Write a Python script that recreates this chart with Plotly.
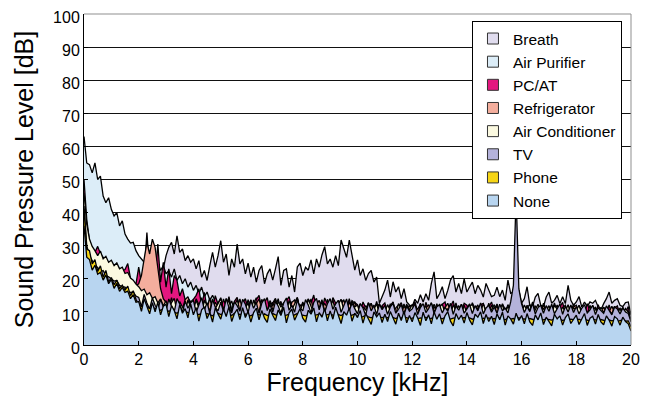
import plotly.graph_objects as go

# Frequency grid (kHz), 0.1 kHz steps from 0 to 20
freq_khz = [i / 10 for i in range(201)]

# Sound pressure level [dB], one value per 0.1 kHz
breath = [
    58.0, 50.0, 48.0, 47.0, 46.0, 44.0, 43.0, 41.0, 39.0, 38.0,
    36.0, 35.0, 34.0, 33.0, 31.0, 30.0, 29.0, 28.0, 27.0, 26.0,
    24.0, 23.5, 22.0, 24.0, 22.5, 23.0, 21.5, 24.0, 21.0, 23.0,
    27.0, 29.5, 31.0, 27.5, 33.0, 28.0, 29.0, 25.5, 27.0, 25.0,
    26.0, 23.0, 25.5, 20.5, 22.5, 19.5, 24.0, 28.0, 23.5, 27.0,
    31.5, 25.0, 27.5, 21.0, 26.0, 23.5, 30.5, 24.5, 26.0, 21.5,
    24.7, 20.5, 23.5, 19.0, 22.5, 24.0, 18.5, 21.5, 23.0, 19.6,
    23.0, 26.7, 18.0, 22.5, 23.0, 17.5, 21.0, 16.0, 23.6, 24.7,
    21.0, 23.5, 22.6, 25.7, 21.5, 26.0, 23.5, 27.2, 29.7, 24.5,
    26.0, 23.5, 27.0, 24.0, 31.7, 28.7, 26.5, 31.7, 27.7, 22.6,
    25.7, 21.0, 23.0, 19.5, 21.6, 22.5, 19.0, 20.5, 12.6, 14.5,
    16.6, 19.6, 14.5, 19.1, 16.0, 17.6, 14.0, 17.0, 13.0, 12.1,
    11.6, 13.8, 12.6, 15.2, 13.0, 15.5, 13.5, 18.6, 22.1, 14.0,
    15.5, 17.6, 14.0, 16.5, 19.6, 21.0, 16.0, 18.6, 15.5, 20.0,
    16.0, 17.6, 19.0, 15.5, 18.0, 16.6, 14.5, 18.6, 16.5, 14.6,
    15.0, 17.5, 14.6, 16.6, 13.5, 19.6, 15.6, 16.0, 14.0, 16.6,
    12.6, 14.0, 17.6, 12.0, 11.6, 14.5, 15.6, 12.0, 11.6, 14.5,
    16.0, 12.6, 13.5, 15.0, 12.5, 14.6, 12.5, 18.0, 13.5, 12.0,
    13.0, 14.6, 11.5, 13.0, 11.6, 13.0, 12.6, 13.5, 11.5, 10.6,
    12.5, 14.0, 16.0, 12.6, 13.5, 14.0, 12.0, 11.6, 12.8, 13.0,
    9.0,
]

air_purifier = [
    63.0, 55.0, 54.5, 52.0, 55.0, 50.0, 51.0, 45.0, 43.0, 44.5,
    41.0, 39.0, 40.0, 36.0, 37.5, 33.5, 32.0, 30.8, 31.0, 28.5,
    27.0, 26.0, 25.0, 26.5, 24.0, 25.5, 23.0, 25.0, 22.5, 24.0,
    21.5, 22.5, 20.5, 23.0, 19.5, 21.0, 18.5, 20.0, 17.5, 19.0,
    16.5, 18.0, 15.5, 17.5, 14.5, 16.0, 13.5, 15.0, 13.2, 12.6,
    14.3, 11.2, 13.9, 11.6, 13.3, 10.4, 14.1, 11.5, 13.0, 10.2,
    13.7, 10.7, 12.8, 14.3, 10.3, 13.2, 11.0, 13.5, 10.5, 12.9,
    11.4, 14.0, 10.2, 12.6, 13.8, 10.6, 13.1, 11.1, 14.2, 10.4,
    12.7, 10.8, 13.9, 10.5, 13.0, 13.6, 10.9, 12.4, 10.3, 13.8,
    11.2, 13.3, 10.1, 13.5, 12.3, 10.4, 13.1, 10.7, 13.4, 12.6,
    10.2, 12.4, 10.7, 9.4, 12.7, 10.1, 12.1, 9.7, 12.5, 10.4,
    12.3, 9.9, 11.9, 12.8, 9.5, 11.6, 10.2, 12.4, 9.8, 12.0,
    10.0, 12.2, 9.6, 12.6, 10.5, 9.3, 11.9, 9.9, 12.3, 10.3,
    12.4, 9.8, 11.7, 9.5, 12.2, 10.2, 12.7, 9.6, 11.5, 10.1,
    11.8, 9.4, 12.5, 10.3, 11.4, 9.2, 12.1, 10.0, 12.6, 9.7,
    11.3, 12.0, 9.5, 11.6, 9.9, 12.2, 10.2, 9.4, 11.8, 10.3,
    11.9, 9.6, 11.2, 12.3, 9.3, 11.5, 10.0, 12.0, 9.7, 11.3,
    9.4, 11.7, 10.2, 9.6, 12.1, 9.8, 11.4, 9.2, 11.8, 10.1,
    10.3, 11.6, 9.5, 11.3, 9.9, 11.9, 9.3, 10.2, 11.5, 9.6,
    11.4, 9.2, 11.2, 9.8, 11.7, 9.5, 10.1, 11.3, 9.4, 10.0,
    7.2,
]

pc_at = [
    50.0, 38.0, 31.5, 29.0, 28.0, 29.8, 27.6, 26.5, 25.8, 25.0,
    24.6, 24.0, 24.2, 23.0, 22.5, 22.8, 24.6, 20.2, 19.2, 18.4,
    23.5, 18.8, 21.5, 34.0, 22.0, 29.0, 20.5, 30.5, 19.0, 25.0,
    17.5, 23.0, 15.5, 21.0, 19.5, 14.8, 17.0, 13.6, 14.2, 13.0,
    13.8, 15.0, 17.0, 11.8, 15.9, 11.2, 14.1, 10.7, 14.9, 12.3,
    10.6, 13.9, 11.5, 14.6, 10.2, 13.2, 14.4, 10.5, 12.6, 14.0,
    11.0, 13.5, 10.4, 13.7, 15.0, 10.8, 12.9, 14.3, 10.3, 12.7,
    14.1, 10.9, 13.2, 10.2, 13.4, 14.6, 11.1, 12.8, 14.4, 10.6,
    13.0, 10.7, 13.8, 12.5, 15.1, 11.0, 13.3, 10.4, 14.2, 12.4,
    10.8, 14.3, 12.7, 10.3, 13.7, 12.9, 11.0, 14.0, 10.5, 12.8,
    12.2, 9.8, 13.0, 11.3, 9.6, 12.6, 10.2, 13.2, 9.9, 11.9,
    12.7, 9.7, 11.8, 13.0, 9.5, 11.5, 12.8, 10.0, 12.4, 9.8,
    11.7, 13.1, 9.9, 12.0, 9.6, 12.9, 10.5, 11.9, 9.7, 12.5,
    10.2, 12.3, 13.0, 9.8, 11.6, 13.3, 9.4, 11.8, 10.3, 12.6,
    12.0, 9.7, 12.8, 10.6, 9.3, 12.2, 12.6, 10.0, 11.4, 13.0,
    10.1, 12.4, 9.8, 12.5, 10.5, 9.2, 11.7, 12.9, 9.9, 11.5,
    12.8, 10.3, 11.6, 9.5, 13.0, 10.6, 11.9, 9.7, 12.6, 10.4,
    11.7, 9.6, 12.7, 10.2, 11.4, 12.9, 9.4, 12.0, 10.0, 12.4,
    9.9, 11.9, 10.5, 9.3, 12.5, 10.3, 11.7, 9.6, 12.2, 10.1,
    11.4, 9.8, 12.1, 9.5, 11.1, 11.8, 9.2, 11.3, 9.9, 11.6,
    6.8,
]

refrigerator = [
    44.0, 34.0, 30.0, 28.0, 27.0, 26.0, 26.5, 25.5, 24.8, 24.2,
    23.8, 23.0, 23.4, 22.1, 21.7, 20.8, 20.3, 19.6, 18.7, 17.9,
    18.5, 21.0, 26.0, 31.0, 27.5, 32.0, 29.5, 24.0, 17.0, 14.0,
    12.8, 11.1, 14.3, 10.6, 13.5, 12.2, 10.9, 13.7, 14.6, 11.8,
    10.9, 14.0, 12.3, 10.4, 13.6, 11.1, 14.2, 10.7, 12.9, 11.5,
    13.3, 10.8, 12.0, 14.1, 10.3, 12.7, 11.4, 13.9, 10.6, 12.4,
    11.2, 13.7, 10.4, 12.5, 13.9, 10.9, 12.1, 10.2, 13.4, 11.7,
    13.8, 10.6, 12.6, 11.0, 13.2, 10.1, 12.9, 13.6, 10.5, 12.2,
    10.7, 12.8, 11.4, 13.9, 10.2, 12.3, 13.5, 10.8, 12.6, 11.1,
    13.4, 10.9, 12.7, 10.4, 12.1, 13.7, 10.6, 12.9, 11.3, 13.1,
    10.2, 12.4, 9.7, 11.9, 10.8, 12.6, 9.5, 11.4, 12.3, 9.8,
    11.7, 10.0, 12.5, 9.6, 11.2, 12.1, 9.4, 11.8, 10.3, 12.0,
    9.9, 11.6, 10.8, 12.4, 9.5, 11.1, 12.2, 9.7, 11.5, 10.4,
    12.0, 9.6, 11.3, 12.6, 10.1, 9.4, 11.9, 10.6, 12.3, 9.8,
    11.2, 12.4, 9.7, 10.9, 12.1, 9.5, 11.6, 10.2, 9.9, 12.0,
    10.3, 11.8, 9.6, 12.2, 10.7, 11.4, 9.9, 11.0, 12.1, 9.5,
    11.6, 9.8, 12.0, 10.5, 9.3, 11.7, 10.9, 9.6, 12.2, 10.1,
    9.5, 11.9, 10.3, 12.1, 9.7, 11.2, 12.0, 9.4, 10.8, 11.5,
    12.0, 9.6, 10.7, 11.5, 9.3, 11.9, 10.1, 11.3, 9.8, 10.6,
    11.3, 9.5, 10.0, 11.7, 9.8, 10.4, 11.1, 9.2, 10.6, 10.2,
    6.2,
]

air_conditioner = [
    46.0, 36.5, 32.0, 29.8, 28.5, 27.0, 28.4, 26.0, 26.8, 25.0,
    25.6, 24.0, 24.8, 23.0, 23.5, 21.6, 21.9, 20.2, 19.6, 18.4,
    17.6, 16.4, 16.9, 15.2, 15.8, 14.1, 14.6, 12.7, 13.9, 11.8,
    13.4, 10.5, 12.8, 14.1, 10.2, 13.1, 11.5, 9.9, 13.6, 11.3,
    10.7, 13.5, 11.2, 9.8, 13.3, 12.1, 10.3, 13.9, 11.0, 12.6,
    14.0, 10.6, 12.3, 13.4, 9.9, 11.8, 13.7, 10.4, 12.5, 11.1,
    12.7, 9.7, 13.6, 11.2, 10.1, 13.8, 11.9, 9.6, 12.9, 10.8,
    9.9, 13.2, 11.4, 12.8, 10.0, 13.5, 10.7, 12.4, 14.0, 10.3,
    12.5, 10.1, 13.9, 11.7, 9.8, 12.6, 11.3, 13.7, 10.2, 12.0,
    11.2, 13.6, 9.9, 12.3, 13.8, 10.6, 12.1, 9.7, 13.3, 11.5,
    12.1, 9.3, 11.6, 10.5, 12.7, 9.4, 11.1, 12.4, 9.6, 11.8,
    9.8, 12.2, 10.4, 11.7, 9.2, 12.5, 10.9, 9.5, 12.0, 10.6,
    12.3, 10.0, 9.4, 12.1, 10.7, 11.8, 9.3, 12.6, 10.5, 9.9,
    11.4, 12.4, 9.6, 11.0, 9.1, 12.2, 10.3, 11.9, 9.4, 12.0,
    9.5, 11.6, 12.3, 9.8, 11.2, 10.1, 12.5, 9.7, 11.4, 10.6,
    12.2, 9.4, 11.3, 12.0, 9.6, 11.7, 10.2, 9.5, 11.9, 10.8,
    9.7, 12.1, 10.4, 9.3, 11.8, 10.6, 12.3, 9.5, 11.0, 10.3,
    11.9, 9.4, 12.0, 10.8, 9.6, 11.5, 10.1, 12.2, 9.2, 11.3,
    10.4, 12.0, 9.5, 11.2, 10.0, 9.3, 11.8, 10.7, 9.6, 11.4,
    9.8, 11.1, 10.5, 9.4, 11.6, 9.7, 10.9, 9.3, 11.0, 9.9,
    6.5,
]

tv = [
    42.0, 30.0, 27.0, 25.5, 24.0, 23.4, 22.1, 22.5, 21.0, 20.6,
    19.8, 19.3, 19.5, 18.0, 17.6, 17.5, 16.2, 15.9, 16.0, 14.8,
    14.4, 11.6, 15.3, 12.7, 10.9, 14.2, 12.0, 10.7, 13.8, 11.5,
    10.4, 13.9, 11.7, 10.1, 14.0, 12.4, 9.8, 13.3, 11.1, 12.8,
    13.5, 9.9, 12.1, 14.3, 10.6, 12.8, 9.6, 13.7, 11.4, 10.3,
    12.9, 10.1, 14.1, 11.3, 9.7, 13.0, 11.9, 10.2, 13.8, 12.3,
    9.8, 13.4, 11.1, 12.9, 9.5, 12.6, 14.0, 10.4, 12.2, 9.9,
    13.1, 11.8, 9.6, 12.7, 14.2, 10.5, 12.0, 9.9, 13.6, 11.2,
    10.3, 13.7, 12.1, 9.7, 12.9, 14.1, 10.6, 13.2, 9.8, 12.5,
    14.0, 10.8, 12.4, 13.5, 9.9, 11.7, 13.9, 10.4, 12.6, 11.0,
    9.4, 12.5, 11.2, 9.0, 12.8, 10.3, 11.9, 9.2, 12.3, 10.7,
    12.0, 9.3, 11.5, 12.6, 9.6, 10.8, 12.2, 9.1, 11.7, 10.2,
    10.9, 12.4, 9.2, 11.3, 12.5, 9.8, 11.0, 12.8, 9.5, 11.6,
    12.1, 9.7, 11.4, 10.2, 12.6, 9.3, 11.8, 10.5, 12.3, 9.6,
    10.8, 12.2, 9.5, 11.9, 10.3, 12.7, 9.4, 11.2, 12.0, 9.9,
    11.5, 9.6, 12.3, 10.4, 11.1, 9.7, 13.0, 18.0, 45.0, 17.0,
    12.4, 9.8, 11.6, 10.1, 12.6, 9.4, 11.3, 12.0, 9.6, 11.9,
    10.2, 12.3, 9.5, 11.0, 12.4, 9.3, 11.7, 10.0, 12.1, 9.8,
    11.6, 9.4, 11.1, 12.2, 9.7, 10.6, 12.0, 9.2, 11.3, 10.4,
    9.6, 11.8, 10.3, 9.1, 11.5, 10.9, 9.4, 11.2, 10.0, 9.5,
    7.0,
]

phone = [
    41.0, 29.0, 28.5, 24.5, 25.8, 22.2, 23.9, 20.5, 22.5, 19.1,
    20.4, 18.2, 19.6, 17.0, 18.1, 16.6, 17.8, 14.9, 16.4, 13.8,
    12.2, 11.6, 12.0, 11.4, 11.0, 11.2, 11.1, 10.7, 10.5, 10.9,
    10.6, 10.2, 10.4, 9.9, 9.6, 10.1, 9.8, 10.3, 9.7, 10.0,
    9.8, 9.4, 9.2, 9.6, 9.3, 9.5, 9.1, 8.8, 9.4, 9.6,
    9.2, 9.5, 9.0, 9.3, 8.9, 9.6, 9.1, 9.3, 8.8, 9.4,
    9.0, 8.8, 9.3, 9.1, 9.2, 8.7, 9.4, 8.9, 9.2, 9.5,
    9.1, 8.9, 9.4, 8.8, 9.0, 9.3, 8.7, 9.2, 9.5, 8.9,
    9.0, 8.8, 9.2, 9.4, 8.9, 9.1, 9.3, 8.8, 9.0, 9.2,
    9.3, 9.0, 8.8, 9.2, 8.9, 9.4, 9.1, 8.7, 9.0, 9.3,
    8.7, 8.4, 8.6, 8.9, 8.5, 8.2, 8.6, 8.8, 8.4, 8.3,
    8.5, 8.2, 8.6, 8.3, 8.0, 8.4, 8.1, 8.5, 8.2, 8.0,
    8.1, 8.3, 7.9, 8.2, 8.0, 8.4, 7.8, 8.1, 8.3, 7.9,
    8.2, 7.9, 8.3, 8.0, 7.8, 8.1, 8.2, 7.7, 8.0, 8.3,
    7.9, 8.2, 7.8, 8.0, 8.3, 7.7, 8.1, 7.9, 8.2, 7.8,
    8.0, 7.7, 8.2, 7.9, 7.6, 8.1, 7.8, 8.0, 7.7, 8.2,
    7.8, 7.9, 7.6, 8.0, 7.7, 7.5, 7.9, 7.8, 7.6, 7.9,
    7.7, 7.5, 7.8, 7.6, 7.9, 7.4, 7.7, 7.5, 7.8, 7.6,
    7.5, 7.8, 7.4, 7.7, 7.6, 7.3, 7.8, 7.5, 7.4, 7.7,
    7.4, 7.2, 7.6, 7.3, 7.5, 7.1, 7.4, 7.6, 7.2, 7.3,
    5.5,
]

no_device = [
    36.0, 26.5, 25.8, 22.6, 24.1, 21.4, 22.0, 19.6, 21.2, 18.5,
    19.8, 17.1, 18.6, 16.2, 17.4, 15.9, 16.3, 14.0, 15.2, 12.9,
    13.1, 10.2, 14.0, 11.5, 9.4, 12.8, 10.0, 12.9, 9.1, 11.7,
    12.3, 8.6, 11.9, 10.4, 7.9, 12.2, 9.6, 11.0, 8.2, 12.4,
    9.1, 11.3, 7.2, 10.6, 11.5, 8.0, 9.9, 6.9, 11.2, 9.4,
    7.8, 10.9, 8.6, 11.6, 7.1, 9.5, 10.8, 7.7, 11.3, 8.3,
    10.2, 6.9, 9.8, 11.1, 7.6, 10.4, 8.1, 6.8, 10.9, 9.0,
    7.4, 10.6, 8.9, 11.4, 6.7, 9.7, 10.8, 7.5, 9.2, 11.0,
    8.1, 6.9, 10.5, 9.3, 11.2, 7.0, 9.8, 8.4, 11.0, 7.3,
    10.3, 7.8, 11.4, 8.6, 6.5, 10.1, 9.0, 11.2, 7.2, 9.6,
    8.3, 10.4, 6.6, 9.5, 7.9, 6.2, 10.0, 8.5, 9.7, 6.8,
    9.3, 7.1, 10.1, 8.0, 6.3, 9.6, 7.4, 10.2, 6.7, 8.9,
    7.0, 9.8, 8.2, 5.9, 9.9, 7.3, 9.1, 6.4, 10.0, 7.8,
    9.4, 6.3, 8.8, 10.1, 7.2, 5.8, 9.5, 7.7, 9.0, 6.6,
    9.8, 7.5, 6.1, 9.3, 8.4, 10.0, 6.5, 9.2, 7.1, 8.7,
    6.2, 9.4, 7.6, 9.9, 6.0, 8.8, 7.9, 6.3, 9.6, 7.4,
    8.9, 6.4, 9.5, 7.0, 5.9, 9.1, 7.6, 9.7, 6.2, 8.4,
    7.2, 5.8, 9.3, 7.9, 8.8, 6.0, 8.3, 9.4, 6.5, 7.8,
    9.0, 6.2, 7.7, 9.5, 5.9, 8.1, 8.7, 6.3, 9.2, 7.0,
    6.1, 8.8, 7.5, 5.7, 8.6, 7.9, 6.0, 8.4, 7.1, 6.4,
    4.2,
]

series_names = ["Breath", "Air Purifier", "PC/AT", "Refrigerator",
                "Air Conditioner", "TV", "Phone", "None"]
series_values = [breath, air_purifier, pc_at, refrigerator,
                 air_conditioner, tv, phone, no_device]
series_colors = ["#e0dcee", "#dcedf8", "#e3177f", "#f4ae9d",
                 "#fbf9e0", "#b4b2da", "#f6d516", "#b8d5f0"]

for vals in series_values:
    assert len(vals) == len(freq_khz), len(vals)

FONT = "Liberation Sans, Arial, sans-serif"

fig = go.Figure()

# Overlapping filled spectra, drawn back (Breath) to front (None)
for name, vals, col in zip(series_names, series_values, series_colors):
    fig.add_trace(go.Scatter(
        x=freq_khz, y=vals, name=name, mode="lines",
        fill="tozeroy", fillcolor=col,
        line=dict(color="black", width=1.3),
        showlegend=False, hoverinfo="skip",
    ))

# Legend entries as square swatches
for name, col in zip(series_names, series_colors):
    fig.add_trace(go.Scatter(
        x=[None], y=[None], name=name, mode="markers",
        marker=dict(symbol="square", size=11, color=col,
                    line=dict(color="#333333", width=1)),
        showlegend=True, hoverinfo="skip",
    ))

# The page body adds an 8 px margin, so the figure is 8 px smaller
# than the window and the margins are set to place the plot area
fig.update_layout(
    width=643, height=388,
    margin=dict(l=76, r=20, t=6, b=51, autoexpand=False),
    paper_bgcolor="white", plot_bgcolor="white",
    font=dict(family=FONT, color="black", size=16),
    hovermode=False,
    legend=dict(
        x=0.9835, y=0.979, xanchor="right", yanchor="top",
        bgcolor="white", bordercolor="black", borderwidth=1,
        font=dict(family=FONT, size=15.5, color="black"),
        traceorder="normal",
    ),
    xaxis=dict(
        range=[0, 20], tickmode="linear", tick0=0, dtick=2,
        showgrid=False, zeroline=False, automargin=False,
        showline=True, linecolor="black", linewidth=1,
        ticks="inside", ticklen=4, tickcolor="black",
        tickfont=dict(family=FONT, size=16),
        ticklabeloverflow="allow",
        title=dict(text="Frequency [kHz]",
                   font=dict(family=FONT, size=25), standoff=5),
    ),
    yaxis=dict(
        range=[0, 100], tickmode="linear", tick0=0, dtick=10,
        showgrid=True, gridcolor="#111111", gridwidth=1,
        zeroline=False, automargin=False,
        showline=True, linecolor="black", linewidth=1,
        ticks="inside", ticklen=4, tickcolor="black",
        tickfont=dict(family=FONT, size=16),
        ticklabeloverflow="allow", ticklabelshift=3,
        title=dict(text="Sound Pressure Level [dB]",
                   font=dict(family=FONT, size=25), standoff=12),
    ),
    shapes=[
        dict(type="line", xref="paper", yref="paper", x0=0, x1=1, y0=1, y1=1,
             line=dict(color="#8f8f8f", width=1), layer="above"),
        dict(type="line", xref="paper", yref="paper", x0=1, x1=1, y0=0, y1=1,
             line=dict(color="#8f8f8f", width=1), layer="above"),
    ],
)

fig.write_html("out.html")
